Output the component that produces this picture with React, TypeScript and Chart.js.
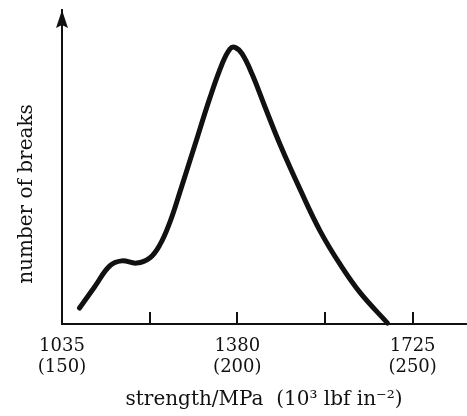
import React, { useEffect, useRef } from "react";
import { Chart, registerables } from "chart.js";

Chart.register(...registerables);

// Data
const strengthMPa = [1069.5, 1099, 1129, 1152.5, 1182, 1207.5, 1227.5, 1247, 1267, 1296.5, 1326, 1350, 1365.5, 1375.5, 1389.5, 1409, 1434.5, 1464.5, 1504, 1543, 1583, 1622, 1675.5];
const breaks = [5.1, 11.8, 18.5, 20.1, 19.4, 21.0, 25.2, 32.3, 42.0, 57.0, 72.0, 82.8, 87.6, 88.1, 86.0, 79.6, 69.1, 57.0, 42.7, 29.6, 18.8, 9.9, 0.3];

const tickValues = [1035, 1207.5, 1380, 1552.5, 1725];
const tickLabels: Record<string, string[]> = {
  "1035": ["1035", "(150)"],
  "1380": ["1380", "(200)"],
  "1725": ["1725", "(250)"],
};
const xTitle = "strength/MPa  (10³ lbf in⁻²)";
const yTitle = "number of breaks";

const INK = "#111111";
const SERIF = "'DejaVu Serif', serif";

const decorPlugin = {
  id: "decor",
  afterDraw(chart: any) {
    const { ctx, chartArea, scales } = chart;
    const xs = scales.x;
    ctx.save();
    // inward tick marks
    ctx.strokeStyle = INK;
    ctx.lineWidth = 2;
    tickValues.slice(1).forEach((v) => {
      const px = Math.round(xs.getPixelForValue(v));
      ctx.beginPath();
      ctx.moveTo(px, chartArea.bottom);
      ctx.lineTo(px, chartArea.bottom - 12);
      ctx.stroke();
    });
    // arrow head on y-axis
    const ax = chartArea.left;
    const ay = chartArea.top;
    ctx.fillStyle = INK;
    ctx.beginPath();
    ctx.moveTo(ax, ay);
    ctx.lineTo(ax - 6, ay + 18);
    ctx.lineTo(ax, ay + 15);
    ctx.lineTo(ax + 6, ay + 18);
    ctx.closePath();
    ctx.fill();
    // y title
    ctx.translate(32, 194);
    ctx.rotate(-Math.PI / 2);
    ctx.font = `20px ${SERIF}`;
    ctx.textAlign = "center";
    ctx.textBaseline = "alphabetic";
    ctx.fillText(yTitle, 0, 0);
    ctx.restore();
  },
};

export default function App() {
  const canvasRef = useRef<HTMLCanvasElement | null>(null);

  useEffect(() => {
    if (!canvasRef.current) return;
    const chart = new Chart(canvasRef.current, {
      type: "line",
      data: {
        datasets: [
          {
            data: strengthMPa.map((x, i) => ({ x, y: breaks[i] })),
            borderColor: INK,
            borderWidth: 5,
            borderCapStyle: "round",
            borderJoinStyle: "round",
            pointRadius: 0,
            tension: 0.4,
            fill: false,
            clip: false as any,
          },
        ],
      },
      options: {
        animation: false,
        responsive: false,
        maintainAspectRatio: false,
        layout: { padding: { top: 10, right: 1, left: 0, bottom: 0 } },
        plugins: { legend: { display: false }, tooltip: { enabled: false } },
        scales: {
          x: {
            type: "linear",
            min: 1035,
            max: 1830,
            grid: { display: false },
            border: { display: true, color: INK, width: 2 },
            afterBuildTicks: (scale: any) => {
              scale.ticks = tickValues.map((v) => ({ value: v }));
            },
            afterFit: (scale: any) => {
              scale.height = 92;
            },
            ticks: {
              autoSkip: false,
              maxRotation: 0,
              padding: 4,
              color: INK,
              font: { family: SERIF, size: 18, lineHeight: 1.17 },
              callback: (v: any) => tickLabels[String(v)] || "",
            },
            title: {
              display: true,
              text: xTitle,
              color: INK,
              font: { family: SERIF, size: 20, lineHeight: 1.2 },
              padding: { top: 0, bottom: 4 },
            },
          },
          y: {
            min: 0,
            max: 100,
            grid: { display: false },
            border: { display: true, color: INK, width: 2 },
            ticks: { display: false },
            afterFit: (scale: any) => {
              scale.width = 62;
            },
          },
        },
      },
      plugins: [decorPlugin],
    });
    return () => chart.destroy();
  }, []);

  return (
    <div style={{ position: "fixed", left: 0, top: 0, width: 467, height: 416, background: "#fff" }}>
      <canvas ref={canvasRef} width={467} height={416} style={{ display: "block" }} />
    </div>
  );
}
